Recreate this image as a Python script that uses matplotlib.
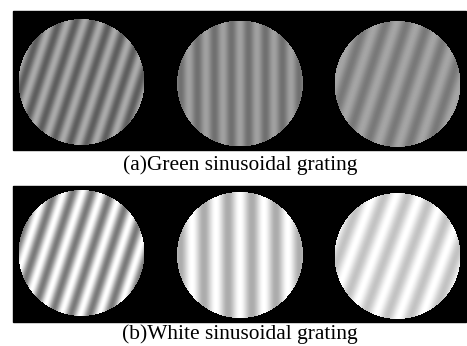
"""Green and white sinusoidal grating stimuli, drawn as two black panels with three discs each."""
import numpy as np
import matplotlib.pyplot as plt
from matplotlib.patches import Rectangle

W, H = 467, 346

captions = ['(a)Green sinusoidal grating', '(b)White sinusoidal grating']
# grating parameters per disc, left -> right
periods_a = [16, 17, 20]          # px per cycle
angles_a = [18, 0, 18]            # tilt from vertical, degrees
means_a = [132, 136, 143]         # mean gray level
amps_a = [38, 24, 22]             # half peak-to-peak
periods_b = [18, 24, 22]
angles_b = [18, 0, 20]
means_b = [188, 213, 225]
amps_b = [66, 42, 30]

panel_x = (13, 466)
panel_y = [(11, 150), (186, 322)]
centers_x = [81.5, 240, 397.5]
centers_y = [[82, 83.5, 84], [253, 255, 256]]
radius = 63


def panel_image(row, periods, angles, means, amps):
    x0, x1 = panel_x
    y0, y1 = panel_y[row]
    yy, xx = np.mgrid[y0:y1, x0:x1] + 0.5
    img = np.zeros(xx.shape)
    for cx, cy, p, a, m, amp in zip(centers_x, centers_y[row], periods, angles, means, amps):
        t = np.radians(a)
        dx, dy = xx - cx, yy - cy
        phase = 2 * np.pi * (dx * np.cos(t) + dy * np.sin(t)) / p
        g = m + amp * np.cos(phase)
        inside = dx ** 2 + dy ** 2 <= radius ** 2
        img[inside] = g[inside]
    return img


fig = plt.figure(figsize=(W / 100, H / 100), dpi=100)
ax = fig.add_axes([0, 0, 1, 1])
ax.axis('off')

for row, pars in enumerate([(periods_a, angles_a, means_a, amps_a),
                            (periods_b, angles_b, means_b, amps_b)]):
    y0, y1 = panel_y[row]
    ax.add_patch(Rectangle((panel_x[0], y0), panel_x[1] - panel_x[0], y1 - y0, color='black', zorder=1))
    img = panel_image(row, *pars)
    ax.imshow(img, cmap='gray', vmin=0, vmax=255, interpolation='nearest',
              extent=[panel_x[0], panel_x[1], y1, y0], zorder=2)

ax.set_xlim(0, W)
ax.set_ylim(H, 0)
ax.set_aspect('auto')

ax.text(240, 165, captions[0], ha='center', va='center', fontsize=15.4, family='Liberation Serif')
ax.text(240, 334.5, captions[1], ha='center', va='center', fontsize=15.4, family='Liberation Serif')

fig.savefig('out.png', dpi=100)
